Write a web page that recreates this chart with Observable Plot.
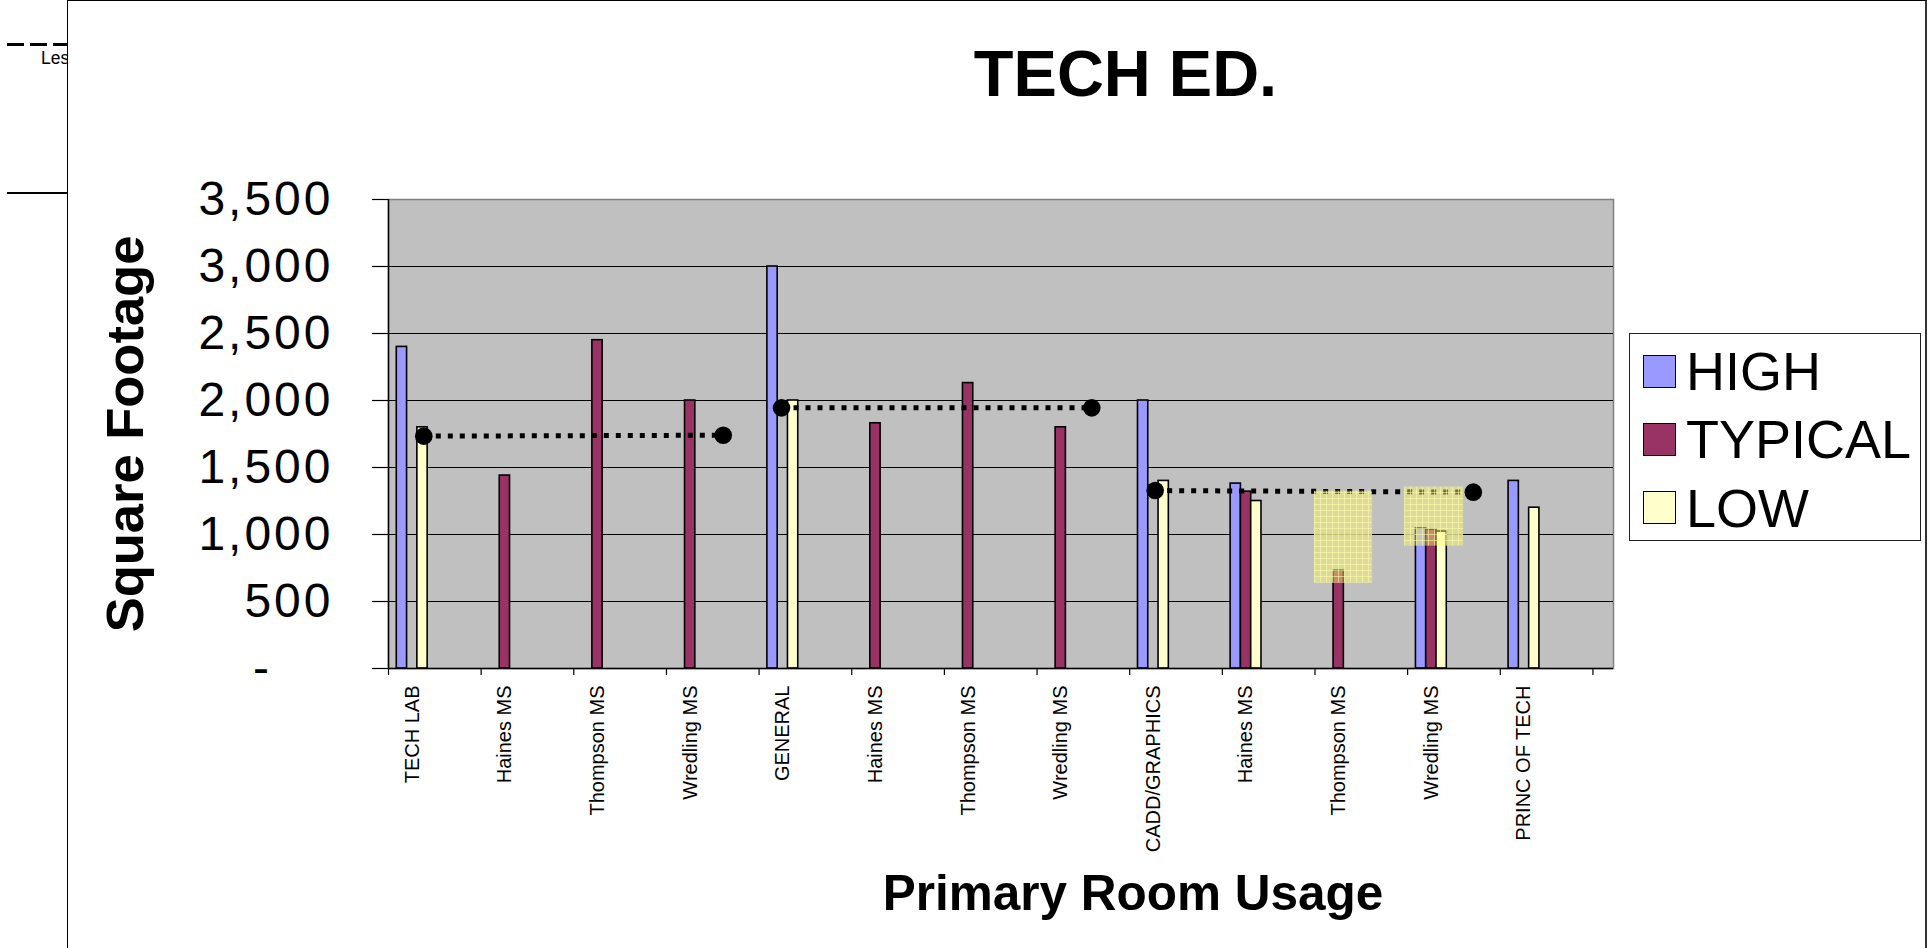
<!DOCTYPE html>
<html>
<head>
<meta charset="utf-8">
<script src="https://cdn.jsdelivr.net/npm/d3@7"></script>
<script src="https://cdn.jsdelivr.net/npm/@observablehq/plot@0.6"></script>
<style>
html, body { margin: 0; padding: 0; background: #fff; }
#page { position: relative; width: 1928px; height: 948px; overflow: hidden; font-family: "Liberation Sans", Arial, sans-serif; color: #000; }
#page svg { position: absolute; left: 0; top: 0; }
#page svg g[aria-label="y-axis tick label"] text { letter-spacing: 3px; }
.abs { position: absolute; white-space: nowrap; line-height: 1; }
.legend { position: absolute; left: 1629px; top: 333px; width: 290px; height: 203px; border: 1px solid #222; background: #fff; box-sizing: content-box; padding-top: 3px; }
.legend .row { display: flex; align-items: center; height: 68.3px; }
.legend .sw { width: 31px; height: 31px; border: 1.5px solid #000; margin-left: 13px; margin-right: 10px; flex: none; }
.legend .lab { font-size: 54px; line-height: 68px; }
</style>
</head>
<body>
<div id="page"></div>
<script>
// ---------------- data ----------------
const categories = ["TECH LAB", "Haines MS", "Thompson MS", "Wredling MS",
                    "GENERAL", "Haines MS", "Thompson MS", "Wredling MS",
                    "CADD/GRAPHICS", "Haines MS", "Thompson MS", "Wredling MS",
                    "PRINC OF TECH"];
const series = ["HIGH", "TYPICAL", "LOW"];
const highValues    = [2400, null, null, null, 3000, null, null, null, 2000, 1380, null, 1045, 1400];
const typicalValues = [null, 1440, 2450, 2000, null, 1830, 2130, 1800, null, 1320,  730, 1035, null];
const lowValues     = [1800, null, null, null, 2000, null, null, null, 1400, 1250, null, 1022, 1200];
const yTicks = [0, 500, 1000, 1500, 2000, 2500, 3000, 3500];

// dotted "average" lines (positions in category units, values in sq ft)
const avgStartPos    = [0.125, 3.986, 8.019];
const avgEndPos      = [3.357, 7.335, 11.453];
const avgStartValues = [1734, 1945, 1328];
const avgEndValues   = [1741, 1945, 1316];

// highlighted (yellow) boxes
const boxStartPos = [9.739, 10.711];
const boxEndPos   = [10.365, 11.348];
const boxLowValues  = [637, 913];
const boxHighValues = [1323, 1353];

const seriesColors = ["#9999FF", "#993366", "#FFFFCC"];

// ---------------- build tables ----------------
const valueSets = [highValues, typicalValues, lowValues];
const bars = [];
categories.forEach((c, i) => series.forEach((s, j) => {
  const v = valueSets[j][i];
  if (v != null) bars.push({i, j, s, v});
}));
const avgPoints = [];
avgStartPos.forEach((p, g) => {
  avgPoints.push({g, x: p, y: avgStartValues[g]});
  avgPoints.push({g, x: avgEndPos[g], y: avgEndValues[g]});
});
const boxes = boxStartPos.map((p, k) => ({x1: p, x2: boxEndPos[k], y1: boxLowValues[k], y2: boxHighValues[k]}));

// layout
const xStart = -0.256;            // category-axis origin (left edge of plot)
const xEnd = xStart + 13.222;     // plot area a bit wider than 13 categories
const BW = 0.111;                 // bar width in category units

const fmt = d3.format(",");
const chart = Plot.plot({
  width: 1928,
  height: 948,
  marginLeft: 388,
  marginRight: 315,
  marginTop: 199,
  marginBottom: 280,
  style: {background: "transparent", fontFamily: "'Liberation Sans', Arial, sans-serif", overflow: "visible", color: "#000"},
  x: {type: "linear", domain: [xStart, xEnd]},
  y: {domain: [0, 3500]},
  color: {domain: series, range: seriesColors},
  marks: [
    Plot.frame({fill: "#C0C0C0", stroke: "#808080", strokeWidth: 1.5}),
    Plot.ruleY(yTicks.filter(t => t > 0 && t < 3500), {stroke: "#000", strokeWidth: 1.2}),
    Plot.rectY(bars, {
      x1: d => d.i + (d.j - 1.5) * BW,
      x2: d => d.i + (d.j - 0.5) * BW,
      y1: 0, y2: "v", fill: "s", stroke: "#000", strokeWidth: 1.6
    }),
    Plot.line(avgPoints, {x: "x", y: "y", z: "g", stroke: "#000", strokeWidth: 5, strokeDasharray: "5 7", strokeLinecap: "butt"}),
    Plot.rect(boxes, {x1: "x1", x2: "x2", y1: "y1", y2: "y2", fill: "url(#hatch)"}),
    Plot.dot(avgPoints, {x: "x", y: "y", r: 8.8, fill: "#000", stroke: "none"}),
    Plot.ruleX([xStart], {stroke: "#000", strokeWidth: 1.5}),
    Plot.ruleY([0], {stroke: "#000", strokeWidth: 1.5}),
    Plot.axisY(yTicks, {
      tickSize: 16, tickPadding: 39, fontSize: 48, label: null,
      tickFormat: d => d === 0 ? "-\u00a0\u00a0\u00a0\u2009" : fmt(d),
      stroke: "#000", strokeWidth: 1.2
    }),
    Plot.axisX(d3.range(14).map(k => xStart + k), {
      tickSize: 7, tickFormat: () => "", label: null, stroke: "#000", strokeWidth: 1.2
    }),
    Plot.axisX(d3.range(categories.length), {
      tickSize: 0, tickPadding: 17, tickRotate: -90, fontSize: 20, label: null,
      tickFormat: i => categories[i]
    })
  ]
});

// pattern for the highlighted boxes
const ns = "http://www.w3.org/2000/svg";
const defs = document.createElementNS(ns, "defs");
defs.innerHTML = `<pattern id="hatch" patternUnits="userSpaceOnUse" width="6" height="6">
  <rect width="6" height="6" fill="rgba(255,250,110,0.45)"></rect>
  <path d="M0 0.5H6M0.5 0V6" stroke="rgba(255,255,170,0.55)" stroke-width="1" fill="none"></path>
</pattern>`;
chart.insertBefore(defs, chart.firstChild);

const page = document.getElementById("page");

// page decorations (behind the chart panel)
page.insertAdjacentHTML("beforeend", `
  <div class="abs" style="left:7px;top:43px;width:60px;height:3px;background:repeating-linear-gradient(to right,#000 0 17px,transparent 17px 23px);"></div>
  <div class="abs" style="left:41px;top:${64.5 - 0.8465 * 17.5}px;font-size:17.5px;">Les</div>
  <div class="abs" style="left:7px;top:192px;width:60px;height:2px;background:#000;"></div>
  <div class="abs" style="left:67px;top:0;width:1860px;height:948px;background:#fff;border-left:1.5px solid #000;border-top:1.5px solid #000;border-right:2px solid #333;box-sizing:border-box;"></div>
`);
page.appendChild(chart);

// titles
page.insertAdjacentHTML("beforeend", `
  <div class="abs" style="left:1125.5px;top:${96 - 0.8465 * 65}px;transform:translateX(-50%);font-size:65px;font-weight:bold;">TECH ED.</div>
  <div class="abs" style="left:1133px;top:${910 - 0.8465 * 49.5}px;transform:translateX(-50%);font-size:49.5px;font-weight:bold;">Primary Room Usage</div>
  <div class="abs" style="left:125px;top:433.5px;transform:translate(-50%,-50%) rotate(-90deg);font-size:52.5px;font-weight:bold;">Square Footage</div>
`);

// legend
const legend = document.createElement("div");
legend.className = "legend";
series.forEach((s, j) => {
  const row = document.createElement("div");
  row.className = "row";
  row.innerHTML = `<div class="sw" style="background:${seriesColors[j]}"></div><div class="lab">${s}</div>`;
  legend.appendChild(row);
});
page.appendChild(legend);
</script>
</body>
</html>
